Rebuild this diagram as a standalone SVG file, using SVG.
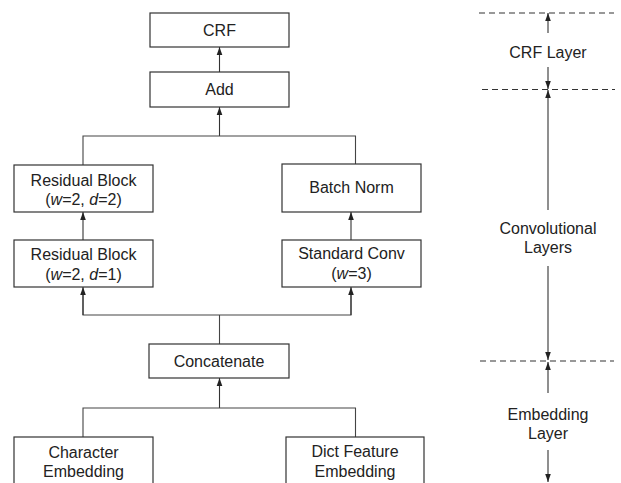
<svg xmlns="http://www.w3.org/2000/svg" width="621" height="483" viewBox="0 0 621 483">
<defs>
<marker id="ah" viewBox="0 0 8 8" refX="8" refY="4" markerWidth="8" markerHeight="8" markerUnits="userSpaceOnUse" orient="auto">
<path d="M0,1.2 L8,4 L0,6.8 Z" fill="#222"/>
</marker>
<style>
.box{fill:#fff;stroke:#333;stroke-width:1.2}
.ln{fill:none;stroke:#444;stroke-width:1.1}
.ar{fill:none;stroke:#333;stroke-width:1.1;marker-end:url(#ah)}
.dash{fill:none;stroke:#333;stroke-width:1.1;stroke-dasharray:6 4}
text{font-family:"Liberation Sans",Arial,sans-serif;font-size:16px;fill:#222;text-anchor:middle}
</style>
</defs>
<rect width="621" height="483" fill="#fff"/>
<g id="connectors">
<line class="ar" x1="219.5" y1="72" x2="219.5" y2="47"/>
<line class="ar" x1="219.5" y1="136" x2="219.5" y2="107"/>
<polyline class="ln" points="83,165 83,136 355.5,136 355.5,164"/>
<line class="ar" x1="83" y1="240" x2="83" y2="212"/>
<line class="ar" x1="351" y1="240" x2="351" y2="212"/>
<polyline class="ln" points="83,290 83,315 351,315 351,290"/>
<line class="ar" x1="83" y1="315" x2="83" y2="287"/>
<line class="ar" x1="351" y1="315" x2="351" y2="287"/>
<line class="ln" x1="219.5" y1="315" x2="219.5" y2="344"/>
<line class="ar" x1="219.5" y1="408" x2="219.5" y2="378"/>
<polyline class="ln" points="83,437 83,408 355.5,408 355.5,437"/>
</g>
<g id="crf"><rect class="box" x="150" y="13" width="139" height="34"/><text x="219.5" y="36">CRF</text></g>
<g id="add"><rect class="box" x="150" y="72" width="139" height="35"/><text x="219.5" y="95">Add</text></g>
<g id="resblock2"><rect class="box" x="14" y="165" width="139" height="47"/><text x="83.5" y="186">Residual Block</text><text x="83.5" y="205">(<tspan font-style="italic">w</tspan>=2, <tspan font-style="italic">d</tspan>=2)</text></g>
<g id="resblock1"><rect class="box" x="14" y="240" width="139" height="47"/><text x="83.5" y="260">Residual Block</text><text x="83.5" y="280">(<tspan font-style="italic">w</tspan>=2, <tspan font-style="italic">d</tspan>=1)</text></g>
<g id="batchnorm"><rect class="box" x="282" y="164" width="139" height="48"/><text x="351.5" y="193">Batch Norm</text></g>
<g id="stdconv"><rect class="box" x="282" y="240" width="139" height="47"/><text x="351.5" y="259">Standard Conv</text><text x="351.5" y="279">(<tspan font-style="italic">w</tspan>=3)</text></g>
<g id="concat"><rect class="box" x="149" y="344" width="140" height="34"/><text x="219" y="367">Concatenate</text></g>
<g id="charemb"><rect class="box" x="14" y="437" width="139" height="60"/><text x="83.5" y="458">Character</text><text x="83.5" y="477">Embedding</text></g>
<g id="dictemb"><rect class="box" x="286" y="437" width="138" height="60"/><text x="355" y="457">Dict Feature</text><text x="355" y="477">Embedding</text></g>
<g id="layers">
<line class="dash" x1="479" y1="13" x2="614" y2="13"/>
<line class="dash" x1="482" y1="89.5" x2="615" y2="89.5"/>
<line class="dash" x1="480" y1="361" x2="614" y2="361"/>
<line class="ar" x1="548" y1="33" x2="548" y2="13"/>
<line class="ar" x1="548" y1="67" x2="548" y2="89"/>
<text x="548" y="58">CRF Layer</text>
<line class="ar" x1="548" y1="210" x2="548" y2="90"/>
<line class="ar" x1="548" y1="266" x2="548" y2="360"/>
<text x="548" y="234">Convolutional</text>
<text x="548" y="253">Layers</text>
<line class="ar" x1="548" y1="393" x2="548" y2="362"/>
<line class="ar" x1="548" y1="450" x2="548" y2="482"/>
<text x="548" y="420">Embedding</text>
<text x="548" y="439">Layer</text>
</g>
</svg>
